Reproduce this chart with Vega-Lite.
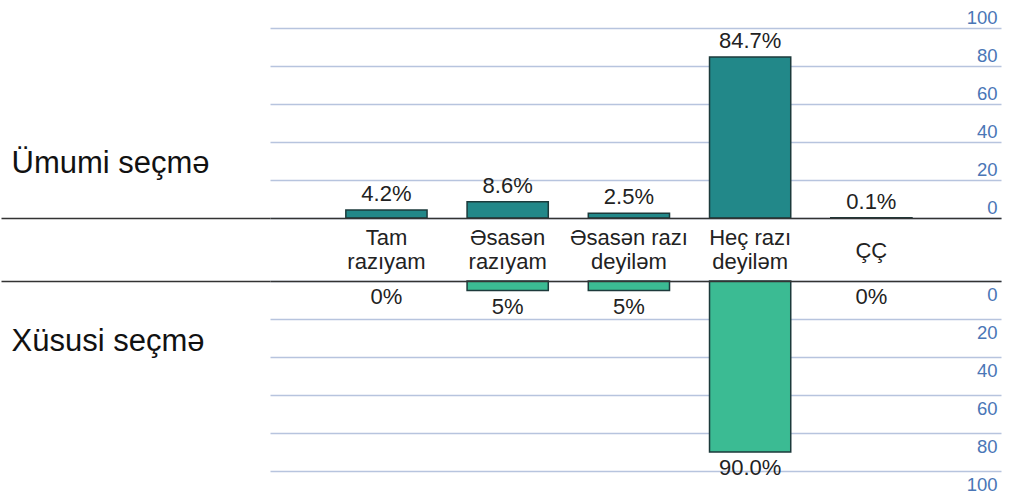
{
  "$schema": "https://vega.github.io/schema/vega-lite/v6.json",
  "padding": {"left": 0, "top": 8, "right": 10, "bottom": 5},
  "bounds": "flush",
  "spacing": 63,
  "config": {"view": {"stroke": null}, "font": "Liberation Sans"},
  "datasets": {
    "umumi": [
      {"cat": "Tam razıyam", "value": 4.2, "label": "4.2%"},
      {"cat": "Əsasən razıyam", "value": 8.6, "label": "8.6%"},
      {"cat": "Əsasən razı deyiləm", "value": 2.5, "label": "2.5%"},
      {"cat": "Heç razı deyiləm", "value": 84.7, "label": "84.7%"},
      {"cat": "ÇÇ", "value": 0.1, "label": "0.1%"}
    ],
    "xususi": [
      {"cat": "Tam razıyam", "value": 0, "label": "0%"},
      {"cat": "Əsasən razıyam", "value": 5, "label": "5%"},
      {"cat": "Əsasən razı deyiləm", "value": 5, "label": "5%"},
      {"cat": "Heç razı deyiləm", "value": 90, "label": "90.0%"},
      {"cat": "ÇÇ", "value": 0, "label": "0%"}
    ]
  },
  "vconcat": [
    {
      "width": 731,
      "height": 190,
      "data": {"name": "umumi"},
      "encoding": {
        "x": {
          "field": "cat", "type": "nominal", "sort": null,
          "scale": {"paddingInner": 0.33, "paddingOuter": 0.68, "align": 0.46},
          "axis": {
            "orient": "bottom", "title": null, "domain": true, "domainColor": "#333333", "domainWidth": 1.5,
            "ticks": false, "grid": false, "labelAngle": 0, "labelFontSize": 22, "labelColor": "#222222",
            "labelBaseline": "top",
            "labelPadding": {"condition": {"test": "datum.label == 'ÇÇ'", "value": 22}, "value": 9},
            "labelLineHeight": 24, "labelOverlap": false,
            "labelBound": false, "labelFlush": false, "zindex": 1,
            "labelExpr": "indexof(datum.label, ' ') < 0 ? datum.label : [slice(datum.label, 0, lastindexof(datum.label, ' ')), slice(datum.label, lastindexof(datum.label, ' ') + 1)]"
          }
        }
      },
      "layer": [
        {
          "mark": {"type": "bar", "color": "#228889", "stroke": "#1c3a3b", "strokeWidth": 1.5},
          "encoding": {
            "y": {
              "field": "value", "type": "quantitative", "scale": {"domain": [0, 100]},
              "axis": {
                "orient": "right", "title": null, "values": [0, 20, 40, 60, 80, 100], "grid": true,
                "gridColor": "#b7c4de", "gridWidth": 1.5, "domain": false, "ticks": false,
                "labelAlign": "right", "labelPadding": -4, "labelOffset": -11, "labelBaseline": "middle",
                "labelColor": "#4a76b6", "labelFontSize": 18.5
              }
            }
          }
        },
        {
          "mark": {"type": "text", "baseline": "bottom", "dy": -4, "fontSize": 22, "color": "#222222"},
          "encoding": {
            "y": {
              "field": "value", "type": "quantitative",
              "axis": {
                "orient": "left", "values": [0], "ticks": true, "tickSize": 269, "tickColor": "#333333",
                "tickWidth": 1.5, "labels": false, "domain": false, "grid": false,
                "title": "Ümumi seçmə", "titleAngle": 0, "titleAlign": "left", "titleBaseline": "middle",
                "titleX": -259, "titleY": 135, "titleFontSize": 31, "titleFontWeight": "normal", "titleColor": "#111111"
              }
            },
            "text": {"field": "label"}
          }
        }
      ],
      "resolve": {"axis": {"y": "independent"}}
    },
    {
      "width": 731,
      "height": 190,
      "data": {"name": "xususi"},
      "encoding": {
        "x": {
          "field": "cat", "type": "nominal", "sort": null,
          "scale": {"paddingInner": 0.33, "paddingOuter": 0.68, "align": 0.46},
          "axis": {
            "orient": "top", "title": null, "domain": true, "domainColor": "#333333", "domainWidth": 1.5,
            "ticks": false, "grid": false, "labels": false, "zindex": 1
          }
        }
      },
      "layer": [
        {
          "mark": {"type": "bar", "color": "#3bbb93", "stroke": "#1c3a3b", "strokeWidth": 1.5},
          "encoding": {
            "y": {
              "field": "value", "type": "quantitative", "scale": {"domain": [0, 100], "reverse": true},
              "axis": {
                "orient": "right", "title": null, "values": [0, 20, 40, 60, 80, 100], "grid": true,
                "gridColor": "#b7c4de", "gridWidth": 1.5, "domain": false, "ticks": false,
                "labelAlign": "right", "labelPadding": -4, "labelOffset": 13, "labelBaseline": "middle",
                "labelColor": "#4a76b6", "labelFontSize": 18.5
              }
            },
            "strokeOpacity": {"condition": {"test": "datum.value == 0", "value": 0}, "value": 1}
          }
        },
        {
          "mark": {"type": "text", "baseline": "top", "dy": 6, "fontSize": 22, "color": "#222222"},
          "encoding": {
            "y": {
              "field": "value", "type": "quantitative",
              "axis": {
                "orient": "left", "values": [0], "ticks": true, "tickSize": 269, "tickColor": "#333333",
                "tickWidth": 1.5, "labels": false, "domain": false, "grid": false,
                "title": "Xüsusi seçmə", "titleAngle": 0, "titleAlign": "left", "titleBaseline": "middle",
                "titleX": -259, "titleY": 60, "titleFontSize": 31, "titleFontWeight": "normal", "titleColor": "#111111"
              }
            },
            "text": {"field": "label"}
          }
        }
      ],
      "resolve": {"axis": {"y": "independent"}}
    }
  ]
}
